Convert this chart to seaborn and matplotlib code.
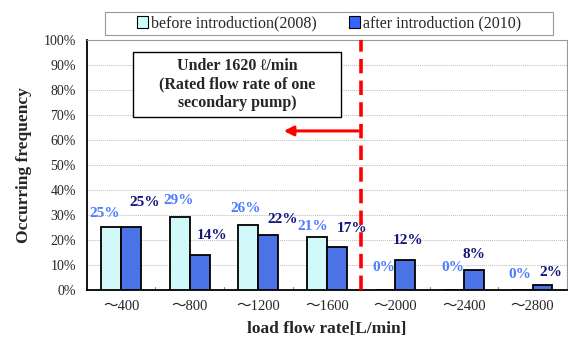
import matplotlib
matplotlib.use("Agg")
import matplotlib.pyplot as plt
import seaborn as sns
import pandas as pd
from matplotlib.patches import Rectangle, FancyArrowPatch

categories = ["～400", "～800", "～1200", "～1600", "～2000", "～2400", "～2800"]
before_2008 = [25, 29, 26, 21, 0, 0, 0]
after_2010 = [25, 14, 22, 17, 12, 8, 2]
series_names = ["before introduction(2008)", "after introduction (2010)"]
y_ticks = [0, 10, 20, 30, 40, 50, 60, 70, 80, 90, 100]

# label offsets (points) for the data labels, reading Excel placement
before_off = [(-5, 10), (-1, 12), (-2, 12), (-3, 8), (-1, 16), (-1, 16), (-2, 11)]
after_off = [(10, 18), (9, 14), (10, 11), (11, 14), (2, 14), (0, 11), (6, 9)]

sns.set_theme(style="white")
plt.rcParams["font.family"] = ["Liberation Serif", "DejaVu Serif", "Noto Sans CJK JP"]

df = pd.DataFrame({
    "cat": categories * 2,
    "val": before_2008 + after_2010,
    "series": [series_names[0]] * len(categories) + [series_names[1]] * len(categories),
})

c_before = "#CCFFFF"
c_after = "#3366FF"

fig = plt.figure(figsize=(5.68, 3.44), dpi=100)
ax = fig.add_axes([0.153, 0.157, 0.845, 0.727])

sns.barplot(data=df, x="cat", y="val", hue="series", hue_order=series_names,
            palette=[c_before, c_after], width=0.58, edgecolor="black",
            linewidth=1.3, ax=ax, legend=False, zorder=3)

ax.set_xlim(-0.5, len(categories) - 0.5)
ax.set_ylim(0, 100)
ax.set_yticks(y_ticks)
ax.set_yticklabels([f"{v}%" for v in y_ticks], fontsize=10)
ax.set_xticks(range(len(categories)))
ax.set_xticklabels(categories, fontsize=10.5,
                   family=["Liberation Serif", "Noto Sans CJK JP"])
ax.tick_params(axis="both", length=0, pad=7)
ax.tick_params(axis="y", pad=8)
for b in [i + 0.5 for i in range(len(categories) - 1)]:
    ax.plot([b, b], [0, 1.2], color="#888888", lw=0.8, zorder=2)

ax.yaxis.grid(True, color="#BBBBBB", linestyle=(0, (1, 1)), lw=0.7, zorder=0)
for s in ["top", "right"]:
    ax.spines[s].set_color("#999999")
    ax.spines[s].set_linewidth(0.8)
for s in ["left", "bottom"]:
    ax.spines[s].set_color("black")
    ax.spines[s].set_linewidth(1.3)

ax.set_xlabel("load flow rate[L/min]", fontsize=12.5, fontweight="bold", labelpad=6)
ax.set_ylabel("Occurring frequency", fontsize=12.5, fontweight="bold", labelpad=8)

# data labels
n = len(categories)
bw = 0.29
for i in range(n):
    ax.annotate(f"{before_2008[i]}%", (i - bw / 2, before_2008[i]),
                xytext=before_off[i], textcoords="offset points",
                ha="center", va="center", fontsize=11, fontweight="bold",
                color="#4D7CFF", zorder=5)
    ax.annotate(f"{after_2010[i]}%", (i + bw / 2, after_2010[i]),
                xytext=after_off[i], textcoords="offset points",
                ha="center", va="center", fontsize=11, fontweight="bold",
                color="#14167A", zorder=5)

# red dashed threshold line
ax.plot([3.5, 3.5], [0, 100], color="#FF0000", lw=2.6,
        linestyle=(0, (4, 2)), zorder=6, clip_on=False)
arrow = FancyArrowPatch((3.5, 63.6), (2.33, 63.6), arrowstyle="-|>",
                        mutation_scale=14, color="#FF0000", lw=2.2, zorder=6)
ax.add_patch(arrow)

# annotation box
ax.add_patch(Rectangle((0.171, 69.2), 3.204 - 0.171, 26.0, facecolor="white",
                       edgecolor="black", lw=1.0, zorder=7))
ax.text(1.69, 82.2, "Under 1620 ℓ/min\n(Rated flow rate of one\nsecondary pump)",
        ha="center", va="center", fontsize=11.5, fontweight="bold",
        linespacing=1.2, zorder=8)

# legend frame (figure coords) and frameless legend inside
W, H = 568.0, 344.0
fig.patches.append(Rectangle((105 / W, 1 - 35 / H), (553 - 105) / W, 23 / H,
                             transform=fig.transFigure, facecolor="white",
                             edgecolor="#999999", lw=0.8, zorder=0))
handles = [Rectangle((0, 0), 1, 1, facecolor=c_before, edgecolor="black", lw=0.8),
           Rectangle((0, 0), 1, 1, facecolor=c_after, edgecolor="black", lw=0.8)]
leg = fig.legend(handles, series_names, loc="center",
                 bbox_to_anchor=((105 + 553) / 2 / W, 1 - 23.5 / H),
                 ncol=2, frameon=False, fontsize=11.5,
                 handlelength=0.7, handleheight=0.7, handletextpad=0.2,
                 columnspacing=2.0, borderpad=0.2)

fig.savefig("out.png", dpi=100)
